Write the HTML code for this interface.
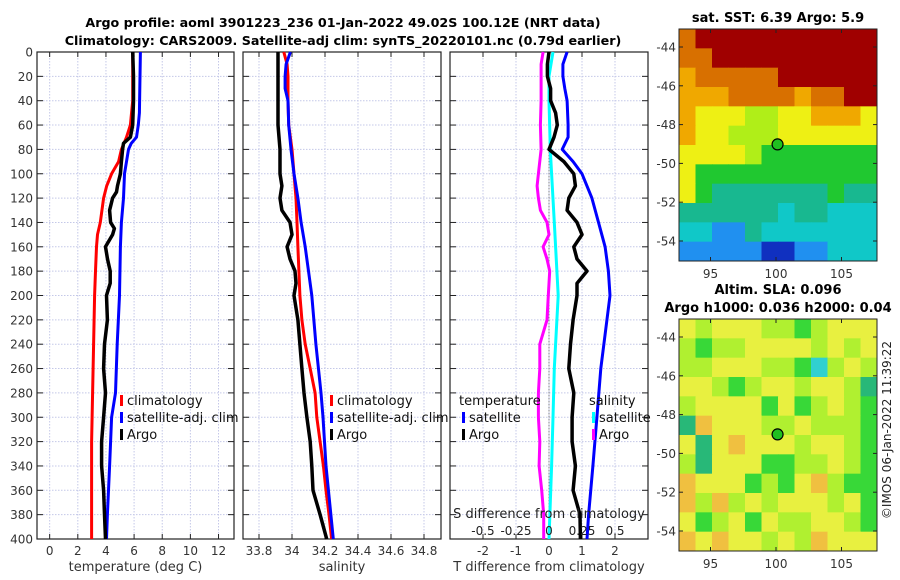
<!DOCTYPE html>
<html><head><meta charset="utf-8"><style>
html,body{margin:0;padding:0;background:#fff;}
svg{display:block;font-family:"DejaVu Sans","Liberation Sans",sans-serif;}
</style></head><body>
<svg id="fig" width="900" height="580" viewBox="0 0 900 580">
<text x="343" y="27" font-size="12.7" font-weight="bold" text-anchor="middle">Argo profile: aoml 3901223_236 01-Jan-2022 49.02S 100.12E (NRT data)</text>
<text x="343" y="45" font-size="12.7" font-weight="bold" text-anchor="middle">Climatology: CARS2009. Satellite-adj clim: synTS_20220101.nc (0.79d earlier)</text>
<text x="778" y="22" font-size="13" font-weight="bold" text-anchor="middle">sat. SST: 6.39 Argo: 5.9</text>
<text x="778" y="294" font-size="13" font-weight="bold" text-anchor="middle">Altim. SLA: 0.096</text>
<text x="778" y="312" font-size="13" font-weight="bold" text-anchor="middle">Argo h1000: 0.036 h2000: 0.04</text>
<text transform="translate(891,430) rotate(-90)" font-size="12" text-anchor="middle" fill="#222">©IMOS 06-Jan-2022 11:39:22</text>
</svg>
<script>
// ---- data ----
const depthTicks = [0,20,40,60,80,100,120,140,160,180,200,220,240,260,280,300,320,340,360,380,400];
const tempTicks = [0,2,4,6,8,10,12];
const salTicks = [33.8,34,34.2,34.4,34.6,34.8];
const dTTicks = [-2,-1,0,1,2];
const dSTicks = [-0.5,-0.25,0,0.25,0.5];

const tArgoDepth = [0,20,40,60,70,75,80,90,100,110,115,120,130,140,145,150,160,170,180,190,200,220,240,260,280,300,320,340,360,380,400];
const tArgo = [5.9,5.96,5.96,5.9,5.74,5.25,5.18,5.1,5.03,4.82,4.75,4.47,4.26,4.33,4.6,4.47,3.97,4.11,4.3,4.3,4.04,4.1,3.9,3.83,3.97,3.83,3.69,3.69,3.83,3.9,3.97];
const tClimDepth = [0,40,60,70,80,90,100,110,120,140,150,160,180,200,240,280,320,360,400];
const tClim = [5.9,5.9,5.74,5.46,5.1,4.9,4.4,4.05,3.83,3.6,3.4,3.33,3.26,3.19,3.12,3.05,2.98,2.98,2.98];
const tSatDepth = [0,50,60,70,75,80,90,100,120,140,160,200,240,280,300,340,380,400];
const tSat = [6.45,6.38,6.3,6.17,5.8,5.6,5.46,5.32,5.25,5.1,5.03,4.96,4.8,4.68,4.4,4.26,4.1,4.04];

const sArgoDepth = [0,60,70,80,100,110,120,130,140,150,160,170,180,190,200,220,240,260,280,300,320,340,360,380,400];
const sArgo = [33.915,33.915,33.921,33.927,33.927,33.939,33.927,33.939,33.988,34.0,33.97,33.988,34.018,34.024,34.012,34.036,34.048,34.06,34.073,34.09,34.11,34.12,34.127,34.17,34.21];
const sClimDepth = [0,10,20,40,60,80,100,120,140,160,180,200,220,240,260,280,300,320,340,360,380,400];
const sClim = [33.95,33.97,33.976,33.976,33.98,34.0,34.012,34.024,34.03,34.036,34.042,34.048,34.06,34.08,34.11,34.14,34.15,34.17,34.19,34.206,34.224,34.24];
const sSatDepth = [0,10,20,30,40,60,80,100,120,140,160,180,200,240,280,300,340,400];
const sSat = [33.99,33.964,33.958,33.958,33.976,33.98,33.994,34.012,34.036,34.055,34.08,34.1,34.12,34.145,34.176,34.188,34.206,34.25];

const dTArgoDepth = [0,10,20,30,40,50,60,70,80,90,100,110,120,130,140,150,160,170,180,190,200,220,240,260,280,300,320,340,360,380,400];
const dTArgo = [0,-0.05,-0.05,0.05,0.05,0.2,0.25,0.15,0,0.45,0.75,0.8,0.6,0.55,0.85,1.0,0.75,0.85,1.15,0.85,0.85,0.73,0.65,0.6,0.75,0.7,0.7,0.8,0.73,0.94,0.95];
const dTSatDepth = [0,10,20,30,40,60,70,80,90,100,120,140,160,180,200,260,300,340,380,400];
const dTSat = [0.55,0.42,0.42,0.48,0.55,0.58,0.58,0.4,0.73,1.0,1.3,1.5,1.7,1.8,1.85,1.57,1.45,1.33,1.2,1.15];
const dSSatDepth = [0,20,40,80,100,140,180,200,260,300,340,400];
const dSSat = [0.03,0,0,0.01,0.02,0.04,0.06,0.07,0.04,0.03,0.02,0];
const dSArgoDepth = [0,10,40,60,80,100,110,120,130,140,150,160,170,180,190,200,220,240,260,280,300,320,340,360,380,400];
const dSArgo = [-0.045,-0.06,-0.06,-0.065,-0.06,-0.08,-0.09,-0.08,-0.065,-0.015,0,-0.045,-0.015,0.005,0,-0.005,-0.015,-0.07,-0.07,-0.08,-0.08,-0.07,-0.075,-0.055,-0.04,-0.04];

// map grids (digits 0-9 colour classes), rows north->south
const sstGrid = ["899999999999","889999999999","788888999999","777888878899","766655667776","766555666666","666654444444","644444444444","643333333433","333333233222","221132222222","111110011222"];
const slaGrid = ["656665545666","545566665656","556665542565","665456656653","566664645654","376665565554","636766656654","536664455654","766645467544","757565666564","645646556654","767665657666"];
const mapPalette = ["#1030c0","#2090f0","#10c8c8","#18b890","#20c830","#b0ee18","#eef014","#f0a800","#d87000","#a00000"];
const slaPalette = ["#1030c0","#2090f0","#30d0d0","#28b878","#38d838","#b0f030","#e8f040","#f0c040","#d87000","#a00000"];

// ---- drawing ----
const NS="http://www.w3.org/2000/svg";
const svg=document.getElementById('fig');
function el(tag,attrs,parent){const e=document.createElementNS(NS,tag);for(const k in attrs)e.setAttribute(k,attrs[k]);(parent||svg).appendChild(e);return e;}
const Y0=52,Y1=539;
function yD(d){return Y0+(d/400)*(Y1-Y0);}

function panel(name,x0,x1,xmin,xmax,ticks,fmt,labelTitle,showY){
  const g=el('g',{});
  
  
  const sx=v=>x0+(v-xmin)/(xmax-xmin)*(x1-x0);
  ticks.forEach(t=>{const l=el('line',{x1:sx(t),x2:sx(t),y1:Y0,y2:Y1,stroke:'#c4c8e8','stroke-dasharray':'1.5,1.5','stroke-width':1},g);
    
    el('line',{x1:sx(t),x2:sx(t),y1:Y1,y2:Y1-5,stroke:'#222'},g);el('line',{x1:sx(t),x2:sx(t),y1:Y0,y2:Y0+5,stroke:'#222'},g);
    const tx=el('text',{x:sx(t),y:Y1+16,'font-size':12,'text-anchor':'middle',fill:'#333'},g);tx.textContent=fmt(t);
    });
  depthTicks.forEach(d=>{const l=el('line',{x1:x0,x2:x1,y1:yD(d),y2:yD(d),stroke:'#c4c8e8','stroke-dasharray':'1.5,1.5'},g);
    
    el('line',{x1:x0,x2:x0+6,y1:yD(d),y2:yD(d),stroke:'#222'},g);el('line',{x1:x1,x2:x1-6,y1:yD(d),y2:yD(d),stroke:'#222'},g);
    if(showY){const tx=el('text',{x:x0-4,y:yD(d)+4.5,'font-size':12,'text-anchor':'end',fill:'#333'},g);tx.textContent=d;
      }});
  el('rect',{x:x0,y:Y0,width:x1-x0,height:Y1-Y0,fill:'none',stroke:'#222','stroke-width':1.2},g);
  const at=el('text',{x:(x0+x1)/2,y:Y1+32,'font-size':13,'text-anchor':'middle',fill:'#333'},g);at.textContent=labelTitle;
  
  return {g,sx};
}
function line(p,sx,depths,vals,color,name,w){
  const pts=depths.map((d,i)=>sx(vals[i]).toFixed(1)+','+yD(d).toFixed(1)).join(' ');
  const pl=el('polyline',{points:pts,fill:'none',stroke:color,'stroke-width':w||3,'stroke-linejoin':'round'},p.g);
  
  
}
function legend(g,x,y,items){
  items.forEach((it,i)=>{
    if(it.color){const r=el('rect',{x:x,y:y+i*17-10,width:3,height:11,fill:it.color},g);
      }
    const t=el('text',{x:x+(it.color?7:-3),y:y+i*17,'font-size':13,fill:'#111'},g);t.textContent=it.label;
    
  });
}
// panel 1
const p1=panel('temperature-panel',37,234,-0.9,13.1,tempTicks,v=>String(v),'temperature (deg C)',true);
line(p1,p1.sx,tClimDepth,tClim,'#ff0000','temp-climatology-line');
line(p1,p1.sx,tSatDepth,tSat,'#0000ff','temp-satellite-line');
line(p1,p1.sx,tArgoDepth,tArgo,'#000000','temp-argo-line',3.5);
legend(p1.g,120,405,[{color:'#ff0000',label:'climatology'},{color:'#0000ff',label:'satellite-adj. clim'},{color:'#000',label:'Argo'}]);
// panel 2
const p2=panel('salinity-panel',243,441,33.703,34.903,salTicks,v=>String(v),'salinity',false);
line(p2,p2.sx,sClimDepth,sClim,'#ff0000','sal-climatology-line');
line(p2,p2.sx,sSatDepth,sSat,'#0000ff','sal-satellite-line');
line(p2,p2.sx,sArgoDepth,sArgo,'#000000','sal-argo-line',3.5);
legend(p2.g,330,405,[{color:'#ff0000',label:'climatology'},{color:'#0000ff',label:'satellite-adj. clim'},{color:'#000',label:'Argo'}]);
// panel 3
const p3=panel('difference-panel',450,648,-3,3,dTTicks,v=>String(v),'T difference from climatology',false);
const sxS=v=>549+v*132;
const zl=el('line',{x1:p3.sx(0),x2:p3.sx(0),y1:yD(80),y2:Y1,stroke:'#555','stroke-dasharray':'1,2'},p3.g);

line(p3,sxS,dSArgoDepth,dSArgo,'#ff00ff','sal-diff-argo-line');
line(p3,sxS,dSSatDepth,dSSat,'#00ffff','sal-diff-satellite-line');
line(p3,p3.sx,dTArgoDepth,dTArgo,'#000000','temp-diff-argo-line',3.5);
line(p3,p3.sx,dTSatDepth,dTSat,'#0000ff','temp-diff-satellite-line');
dSTicks.forEach(t=>{const tx=el('text',{x:sxS(t),y:535,'font-size':12,'text-anchor':'middle',fill:'#222'},p3.g);tx.textContent=String(t);
  });
const st=el('text',{x:549,y:518,'font-size':13,'text-anchor':'middle',fill:'#222'},p3.g);st.textContent='S difference from climatology';

legend(p3.g,462,405,[{label:'temperature'},{color:'#0000ff',label:'satellite'},{color:'#000',label:'Argo'}]);
legend(p3.g,592,405,[{label:'salinity'},{color:'#00ffff',label:'satellite'},{color:'#ff00ff',label:'Argo'}]);

// maps
function map(name,grid,pal,top,bottom,latTop){
  const x0=679,x1=877;
  const g=el('g',{});
  
  
  const rows=grid.length,cols=grid[0].length,cw=(x1-x0)/cols,rh=(bottom-top)/rows;
  grid.forEach((r,i)=>{for(let j=0;j<cols;j++){const c=el('rect',{x:x0+j*cw,y:top+i*rh,width:cw+0.5,height:rh+0.5,fill:pal[+r[j]]},g);
    }});
  el('rect',{x:x0,y:top,width:x1-x0,height:bottom-top,fill:'none',stroke:'#222'},g);
  const sy=lat=>latTop+(-44-lat)*19.4;
  [-44,-46,-48,-50,-52,-54].forEach(l=>{const y=sy(l);el('line',{x1:x0,x2:x0+4,y1:y,y2:y,stroke:'#222'},g);el('line',{x1:x1,x2:x1-4,y1:y,y2:y,stroke:'#222'},g);
    const t=el('text',{x:x0-3,y:y+4.5,'font-size':12,'text-anchor':'end',fill:'#333'},g);t.textContent=l;
    });
  [95,100,105].forEach(l=>{const x=776+(l-100)*13.1;el('line',{x1:x,x2:x,y1:bottom,y2:bottom-4,stroke:'#222'},g);el('line',{x1:x,x2:x,y1:top,y2:top+4,stroke:'#222'},g);
    const t=el('text',{x:x,y:bottom+17,'font-size':12,'text-anchor':'middle',fill:'#333'},g);t.textContent=l;
    });
  const m=el('circle',{cx:776+0.12*13.1,cy:sy(-49.02),r:5.5,fill:'#20c020',stroke:'#000','stroke-width':1.2},g);
  
}
map('sst-map',sstGrid,mapPalette,29,261,47);
map('sla-map',slaGrid,slaPalette,319,551,337);
</script>
</body></html>
